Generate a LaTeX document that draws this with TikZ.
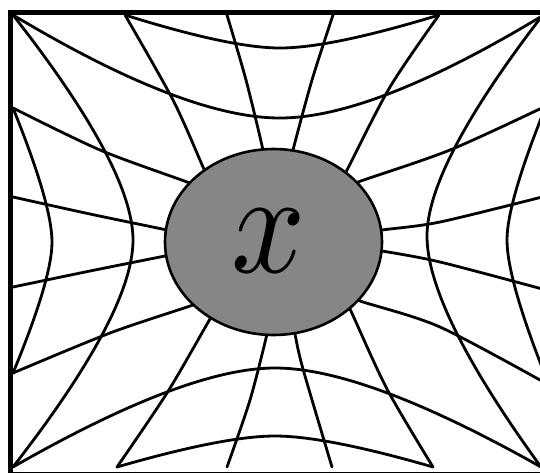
\documentclass[tikz,border=0pt]{standalone}
\usetikzlibrary{shapes.geometric}
\begin{document}
\begin{tikzpicture}[x=1pt,y=-1pt,
  curve/.style={line width=2.8pt, line join=round, line cap=round},
  framestyle/.style={line width=5pt},
  blob/.style={ellipse, draw, line width=2.6pt, fill={rgb,255:red,134;green,134;blue,134},
    minimum width=217pt, minimum height=186pt, inner sep=0pt}]
\useasboundingbox (0,0) rectangle (540,472);
\clip (0,0) rectangle (540,472);
\fill[white] (0,0) rectangle (540,472);
% boundary points
\coordinate (TL) at (13,15);
\coordinate (TR) at (542,16);
\coordinate (BL) at (13,467);
\coordinate (BR) at (541,467);
\coordinate (L1) at (13,108);
\coordinate (L2) at (13,197);
\coordinate (L3) at (13,287);
\coordinate (L4) at (13,373);
\coordinate (R1) at (546,106);
\coordinate (R2) at (546,196);
\coordinate (R3) at (546,290);
\coordinate (R4) at (549,385);
\coordinate (T1) at (125,15);
\coordinate (T2) at (227,15);
\coordinate (T3) at (333,15);
\coordinate (T4) at (439,15);
\coordinate (B1) at (117,467);
\coordinate (B2) at (227,467);
\coordinate (B3) at (332,467);
\coordinate (B4) at (433,467);
% radial lines
\draw[curve] plot[smooth] coordinates {(T1) (173,100) (203,167) (212,187)};
\draw[curve] plot[smooth] coordinates {(T2) (246,80) (263,150) (266,170)};
\draw[curve] plot[smooth] coordinates {(T3) (312,80) (293,150) (289,170)};
\draw[curve] plot[smooth] coordinates {(T4) (390,87) (347,170) (337,188)};
\draw[curve] plot[smooth] coordinates {(R1) (450,150) (358,182) (340,190)};
\draw[curve] plot[smooth] coordinates {(R2) (440,222) (382,230) (360,234)};
\draw[curve] plot[smooth] coordinates {(R3) (440,262) (382,251) (360,248)};
\draw[curve] plot[smooth] coordinates {(R4) (440,327) (360,301) (340,292)};
\draw[curve] plot[smooth] coordinates {(B4) (387,389) (350,309) (340,290)};
\draw[curve] plot[smooth] coordinates {(B3) (303,369) (295,334) (292,315)};
\draw[curve] plot[smooth] coordinates {(B2) (250,400) (267,334) (270,315)};
\draw[curve] plot[smooth] coordinates {(B1) (167,393) (210,319) (222,300)};
\draw[curve] plot[smooth] coordinates {(L4) (110,333) (190,306) (210,298)};
\draw[curve] plot[smooth] coordinates {(L3) (90,271) (165,256) (185,252)};
\draw[curve] plot[smooth] coordinates {(L2) (90,214) (167,230) (185,234)};
\draw[curve] plot[smooth] coordinates {(L1) (100,150) (187,182) (205,190)};
% frame-to-frame curves
\draw[curve] (T1) .. controls (195.3,37) and (246.9,48) .. (280,48)
                  .. controls (313.9,48) and (366.9,37) .. (T4);
\draw[curve] (TL) .. controls (127.7,83.7) and (216.7,118) .. (280,118)
                  .. controls (342,118) and (429.3,84) .. (TR);
\draw[curve] (B1) .. controls (188.6,446.3) and (241.3,436) .. (275,436)
                  .. controls (308.7,436) and (361.4,446.3) .. (B4);
\draw[curve] (BL) .. controls (128.3,401) and (215.6,368) .. (275,368)
                  .. controls (335.3,368) and (423.9,401) .. (BR);
\draw[curve] (TL) .. controls (93,117) and (133,192) .. (133,240)
                  .. controls (133,288.4) and (93,364.1) .. (BL);
\draw[curve] (L1) .. controls (39,172.3) and (52,217) .. (52,242)
                  .. controls (52,266.5) and (39,310.1) .. (L4);
\draw[curve] (TR) .. controls (465.3,115.7) and (427,189.1) .. (427,236)
                  .. controls (427,285.3) and (465,362.3) .. (BR);
\draw[curve] (R1) .. controls (520,170.3) and (507,215) .. (507,240)
                  .. controls (507,267) and (521,315.4) .. (R4);
% frame
\draw[framestyle] (10,12.5) rectangle (548,474.5);
% central blob
\node[blob] (X) at (273.5,242) {};
\node[xscale=13, yscale=14.6] (lbl) at (269,241) {$x$};
\end{tikzpicture}
\end{document}
